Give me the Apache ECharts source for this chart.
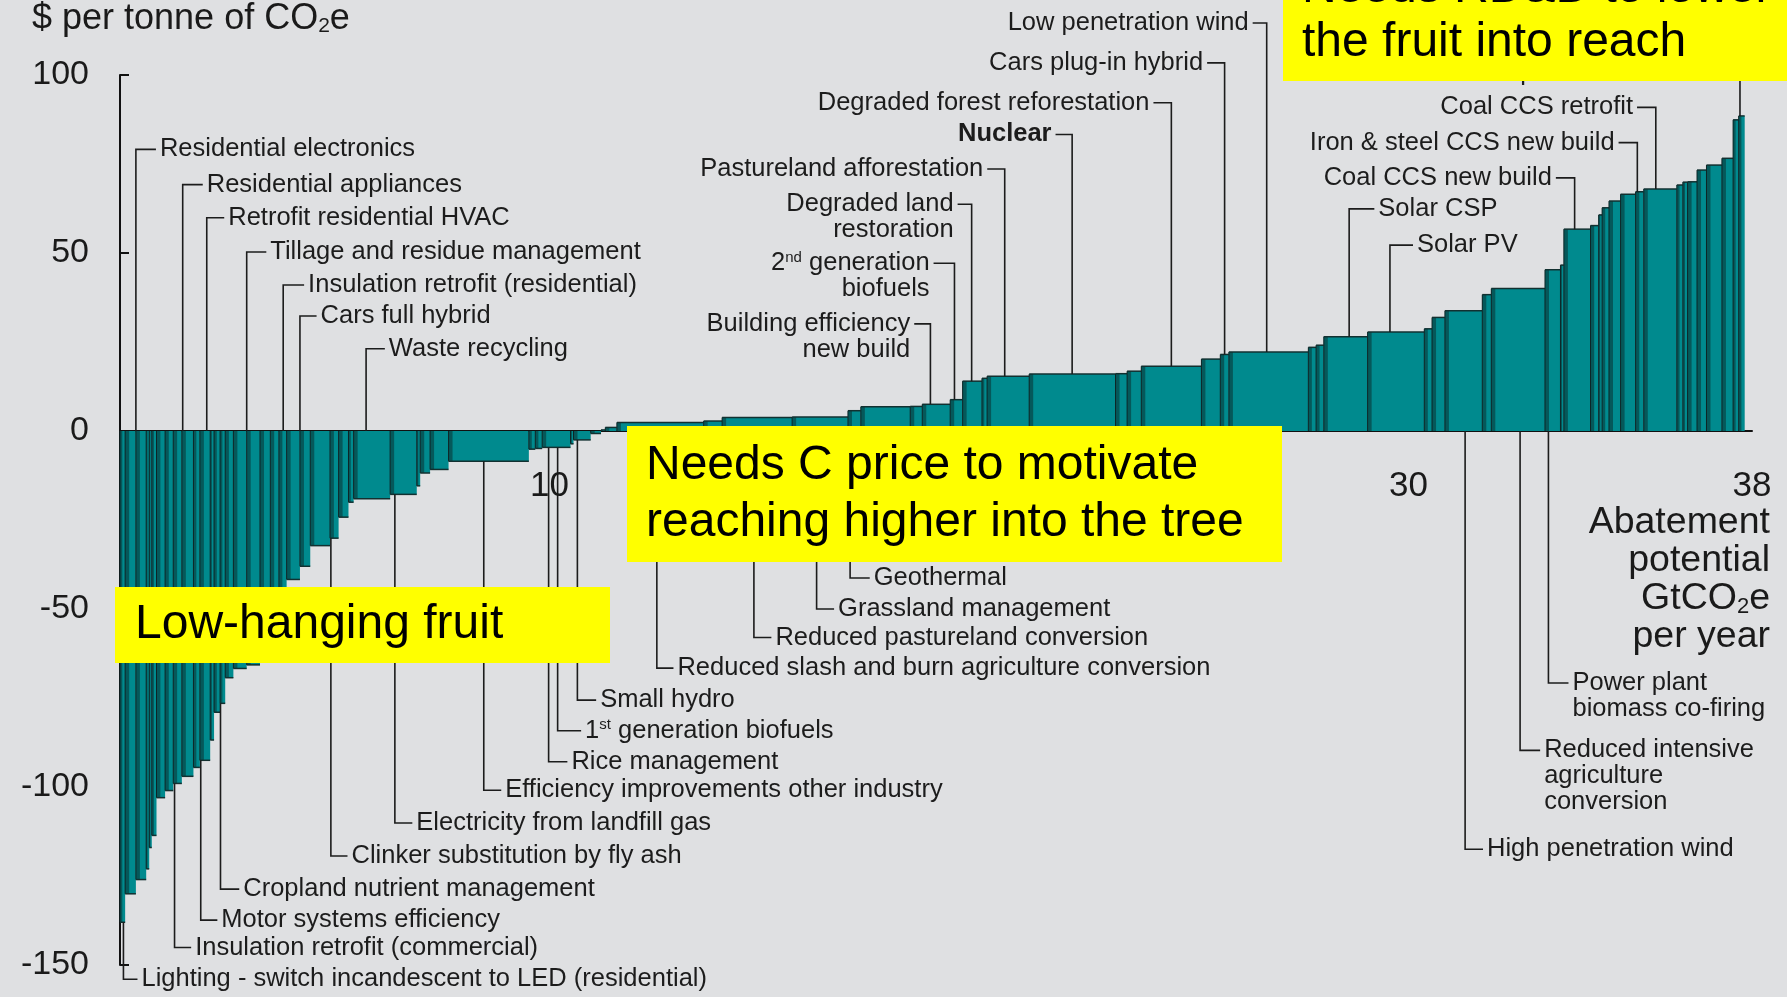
<!DOCTYPE html>
<html>
<head>
<meta charset="utf-8">
<script src="https://cdn.jsdelivr.net/npm/echarts@6/dist/echarts.min.js"></script>
<style>
html, body { margin: 0; padding: 0; background: #dfe0e2; }
#chart { width: 1787px; height: 997px; }
</style>
</head>
<body>
<div id="chart"></div>
<script>
// abatement potential of each lever, GtCO2e per year (bar widths, left to right)
var widths = [
    0.12, 0.25, 0.24, 0.07, 0.06, 0.11, 0.20, 0.19, 0.20, 0.27,
    0.15, 0.24, 0.09, 0.14, 0.12, 0.19, 0.31, 0.31, 0.24, 0.20,
    0.18, 0.31, 0.24, 0.46, 0.20, 0.23, 0.12, 0.85, 0.62, 0.08,
    0.23, 0.43, 1.87, 0.15, 0.16, 0.66, 0.07, 0.40, 0.24, 0.10,
    0.27, 2.02, 0.43, 1.63, 1.30, 0.30, 1.15, 0.28, 0.65, 0.29,
    0.45, 0.12, 0.98, 2.01, 0.27, 0.33, 1.40, 0.44, 0.20, 1.85,
    0.18, 0.18, 1.02, 1.32, 0.18, 0.30, 0.87, 0.21, 1.25, 0.36,
    0.08, 0.62, 0.19, 0.08, 0.16, 0.27, 0.35, 0.19, 0.77, 0.14,
    0.11, 0.22, 0.22, 0.36, 0.26, 0.13, 0.14
];
// cost of each lever, $ per tonne of CO2e (bar heights)
var costs = [
    -138, -130, -126, -123, -117, -113.6, -103, -101, -99, -97,
    -94.5, -92.5, -86.8, -79, -76.5, -69.3, -66.7, -65.7, -60, -52,
    -46, -41.7, -38, -32.2, -30.1, -24.2, -20, -19, -17.8, -15.4,
    -11.8, -10.8, -8.5, -5.1, -4.9, -4.6, -3.6, -2.5, -0.7, 0.3,
    1.0, 2.4, 2.8, 3.8, 3.9, 5.7, 6.8, 6.9, 7.5, 8.8,
    14.0, 14.8, 15.4, 16.0, 16.1, 16.8, 18.2, 20.2, 21.5, 22.2,
    23.5, 24.1, 26.5, 27.8, 28.7, 31.9, 33.8, 38.3, 40.0, 45.3,
    46.6, 56.7, 57.7, 60.7, 62.7, 64.6, 66.5, 67.2, 68.0, 69.1,
    69.9, 70.0, 73.3, 74.7, 76.6, 87.4, 88.5
];
var xTickLabels = [10, 20, 30, 38];

var labelNames = [
    'Residential electronics',
    'Residential appliances',
    'Retrofit residential HVAC',
    'Tillage and residue management',
    'Insulation retrofit (residential)',
    'Cars full hybrid',
    'Waste recycling',
    'Lighting - switch incandescent to LED (residential)',
    'Insulation retrofit (commercial)',
    'Motor systems efficiency',
    'Cropland nutrient management',
    'Clinker substitution by fly ash',
    'Electricity from landfill gas',
    'Efficiency improvements other industry',
    'Rice management',
    '1{sup|st} generation biofuels',
    'Small hydro',
    'Reduced slash and burn agriculture conversion',
    'Reduced pastureland conversion',
    'Grassland management',
    'Geothermal',
    'High penetration wind',
    'Reduced intensive\nagriculture\nconversion',
    'Power plant\nbiomass co-firing',
    'Solar CSP',
    'Solar PV',
    'Building efficiency\nnew build',
    '2{sup|nd} generation\nbiofuels',
    'Degraded land\nrestoration',
    'Pastureland afforestation',
    'Nuclear',
    'Degraded forest reforestation',
    'Cars plug-in hybrid',
    'Low penetration wind',
    'Gas plant CCS retrofit',
    'Coal CCS retrofit',
    'Iron & steel CCS new build',
    'Coal CCS new build'
];
// leader layout: [leader x, text y ($), text x (start or end), side]
var labelLayout = [
    [0.37, 79.1, 0.93, 'l'], [1.46, 69.2, 2.02, 'l'], [2.02, 59.9, 2.52, 'l'],
    [2.95, 50.3, 3.50, 'l'], [3.80, 41.0, 4.38, 'l'], [4.19, 32.3, 4.67, 'l'],
    [5.73, 23.1, 6.26, 'l'], [0.08, -154, 0.50, 'l'], [1.27, -145.1, 1.75, 'l'],
    [1.88, -137.4, 2.36, 'l'], [2.34, -128.7, 2.87, 'l'], [4.91, -119.4, 5.39, 'l'],
    [6.40, -110.1, 6.90, 'l'], [8.47, -100.9, 8.97, 'l'], [9.98, -92.9, 10.51, 'l'],
    [10.19, -84.2, 10.83, 'l'], [10.65, -75.6, 11.18, 'l'], [12.50, -66.6, 12.98, 'l'],
    [14.76, -58.0, 15.26, 'l'], [16.22, -50.0, 16.72, 'l'], [17.0, -41.3, 17.55, 'l'],
    [31.32, -117.5, 31.83, 'l'], [32.6, -89.7, 33.16, 'l'], [33.26, -70.8, 33.82, 'l'],
    [28.62, 62.4, 29.30, 'l'], [29.57, 52.2, 30.20, 'l'],
    [18.87, 30.1, 18.40, 'r'], [19.43, 47.1, 18.85, 'r'], [19.83, 63.7, 19.41, 'r'],
    [20.6, 73.6, 20.10, 'r'], [22.17, 83.3, 21.69, 'r'], [24.48, 92.2, 23.97, 'r'],
    [25.72, 103.4, 25.22, 'r'], [26.7, 114.6, 26.28, 'r'], [37.72, 100.5, 37.16, 'r'],
    [35.76, 90.9, 35.23, 'r'], [35.33, 81.0, 34.80, 'r'], [33.87, 71.1, 33.34, 'r']
];

var fontFam = '"Liberation Sans", Arial, Helvetica, sans-serif';

// bar start positions from the cumulative widths
var starts = [];
var acc = 0;
widths.forEach(function (w) {
    starts.push(acc);
    acc += w;
});
var barData = costs.map(function (c, i) {
    return [starts[i], starts[i] + widths[i], c];
});

function costAt(x) {
    for (var i = 0; i < costs.length; i++) {
        if (x >= starts[i] && x < starts[i] + widths[i]) return costs[i];
    }
    return 0;
}

function renderBar(params, api) {
    var p0 = api.coord([api.value(0), 0]);
    var p1 = api.coord([api.value(1), api.value(2)]);
    var x = p0[0];
    var w = p1[0] - p0[0];
    var y = Math.min(p0[1], p1[1]);
    var h = Math.abs(p1[1] - p0[1]);
    var sw = Math.min(4, w * 0.45);
    return {
        type: 'group',
        children: [
            { type: 'rect', shape: { x: x, y: y, width: w, height: h }, style: { fill: '#008a8e' } },
            { type: 'rect', shape: { x: x, y: y, width: sw, height: h }, style: { fill: '#05585a' } },
            { type: 'line', shape: { x1: x, y1: y, x2: x, y2: y + h }, style: { stroke: '#0d2526', lineWidth: 1 } },
            { type: 'line', shape: { x1: x, y1: p1[1], x2: x + w, y2: p1[1] }, style: { stroke: '#123030', lineWidth: 1.5 } }
        ]
    };
}

var richLabel = {
    sup: { fontSize: 15, fontFamily: fontFam, lineHeight: 16, verticalAlign: 'top', fill: '#1c1c1c' }
};

function renderLabel(params, api) {
    var i = params.dataIndex;
    var lay = labelLayout[i];
    var lx = lay[0], ty = lay[1], tx = lay[2], side = lay[3];
    var v = costAt(lx);
    var sy = ty > 0 ? Math.max(v, 0) : Math.min(v, 0);
    var a = api.coord([lx, sy]);
    var b = api.coord([lx, ty]);
    var c = api.coord([tx, ty]);
    var hx = side === 'r' ? c[0] + 4 : c[0] - 4;
    var al = side === 'r' ? 'right' : 'left';
    return {
        type: 'group',
        children: [
            {
                type: 'polyline',
                shape: { points: [a, [a[0], b[1]], [hx, b[1]]] },
                style: { stroke: '#1c1c1c', lineWidth: 1.6, fill: null }
            },
            {
                type: 'text',
                style: {
                    text: labelNames[i],
                    x: c[0],
                    y: b[1] - 13,
                    align: al,
                    textAlign: al,
                    verticalAlign: 'top',
                    textVerticalAlign: 'top',
                    fontSize: 25.5,
                    fontWeight: labelNames[i] === 'Nuclear' ? 'bold' : 'normal',
                    fontFamily: fontFam,
                    lineHeight: 26,
                    fill: '#1c1c1c',
                    rich: richLabel
                }
            }
        ]
    };
}

// x tick labels sit under the zero line
function renderTick(params, api) {
    var p = api.coord([api.value(0), 0]);
    return {
        type: 'text',
        style: {
            text: String(api.value(0)),
            x: p[0],
            y: p[1] + 55,
            align: 'center',
            textAlign: 'center',
            verticalAlign: 'middle',
            textVerticalAlign: 'middle',
            fontSize: 35,
            fontFamily: fontFam,
            fill: '#1a1a1a'
        }
    };
}

var chart = echarts.init(document.getElementById('chart'));
chart.setOption({
    animation: false,
    backgroundColor: '#dfe0e2',
    grid: { left: 120, top: 75, width: 1632, height: 890, outerBoundsMode: 'none', containLabel: false },
    xAxis: {
        type: 'value',
        min: 0,
        max: 38,
        axisLine: { show: true, onZero: true, lineStyle: { color: '#111', width: 2 } },
        axisTick: { show: false },
        splitLine: { show: false },
        axisLabel: { show: false }
    },
    yAxis: {
        type: 'value',
        min: -150,
        max: 100,
        interval: 50,
        axisLine: { show: true, lineStyle: { color: '#111', width: 2 } },
        axisTick: { show: true, inside: true, length: 9, lineStyle: { color: '#111', width: 2 } },
        splitLine: { show: false },
        axisLabel: { fontSize: 34, fontFamily: fontFam, color: '#1a1a1a', margin: 31 }
    },
    series: [
        {
            type: 'custom',
            renderItem: renderBar,
            data: barData,
            encode: { x: [0, 1], y: 2 },
            clip: false,
            z: 2
        },
        {
            type: 'custom',
            renderItem: renderLabel,
            data: labelLayout.map(function (l) { return [l[0], l[1]]; }),
            encode: { x: 0, y: 1 },
            clip: false,
            z: 3
        },
        {
            type: 'custom',
            renderItem: renderTick,
            data: xTickLabels.map(function (t) { return [t, 0]; }),
            encode: { x: 0, y: 1 },
            clip: false,
            z: 3
        }
    ],
    graphic: [
        {
            type: 'text', x: 32, y: 19, z: 50,
            style: {
                text: '$ per tonne of CO{sub|2}e',
                fontSize: 36, fontFamily: fontFam, fill: '#1a1a1a',
                verticalAlign: 'middle', textVerticalAlign: 'middle',
                rich: { sub: { fontSize: 21, fontFamily: fontFam, verticalAlign: 'bottom', fill: '#1a1a1a' } }
            }
        },
        {
            type: 'text', x: 1770, y: 580, z: 50,
            style: {
                text: 'Abatement\npotential\nGtCO{sub|2}e\nper year',
                fontSize: 37.5, fontFamily: fontFam, fill: '#1a1a1a', lineHeight: 38,
                align: 'right', textAlign: 'right',
                verticalAlign: 'middle', textVerticalAlign: 'middle',
                rich: { sub: { fontSize: 22, fontFamily: fontFam, verticalAlign: 'bottom', lineHeight: 38, fill: '#1a1a1a' } }
            }
        },
        { type: 'rect', z: 100, shape: { x: 115, y: 587, width: 495, height: 76 }, style: { fill: '#ffff00' } },
        {
            type: 'text', z: 101, x: 135, y: 625,
            style: { text: 'Low-hanging fruit', fontSize: 48, fontFamily: fontFam, fill: '#000', verticalAlign: 'middle', textVerticalAlign: 'middle' }
        },
        { type: 'rect', z: 100, shape: { x: 627, y: 426, width: 655, height: 136 }, style: { fill: '#ffff00' } },
        {
            type: 'text', z: 101, x: 646, y: 494,
            style: {
                text: 'Needs C price to motivate\nreaching higher into the tree',
                fontSize: 48, fontFamily: fontFam, fill: '#000', lineHeight: 57,
                verticalAlign: 'middle', textVerticalAlign: 'middle'
            }
        },
        { type: 'rect', z: 100, shape: { x: 1283, y: 0, width: 504, height: 81 }, style: { fill: '#ffff00' } },
        {
            type: 'text', z: 101, x: 1302, y: 16,
            style: {
                text: 'Needs RD&D to lower\nthe fruit into reach',
                fontSize: 48, fontFamily: fontFam, fill: '#000', lineHeight: 54,
                verticalAlign: 'middle', textVerticalAlign: 'middle'
            }
        }
    ]
});
</script>
</body>
</html>
